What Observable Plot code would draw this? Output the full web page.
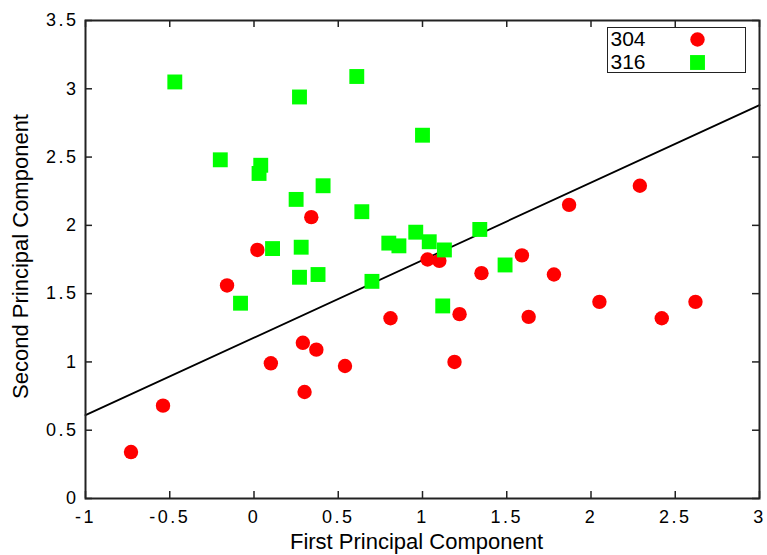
<!DOCTYPE html>
<html><head><meta charset="utf-8">
<script src="https://cdn.jsdelivr.net/npm/d3@7"></script>
<script src="https://cdn.jsdelivr.net/npm/@observablehq/plot@0.6"></script>
<style>
body{margin:0;background:#fff;}
#wrap{position:relative;width:767px;height:555px;overflow:hidden;}
#legendbox{position:absolute;left:607px;top:27px;width:137px;height:44px;border:1.5px solid #222;pointer-events:none;}
#wrap g[aria-label$="tick label"]{letter-spacing:2.5px;}
</style></head><body><div id="wrap"><div id="legendbox"></div></div>
<script>
// Series 304 (red circles)
const x304 = [-0.73, -0.54, -0.16, 0.02, 0.10, 0.34, 0.29, 0.37, 0.30, 0.54, 0.81, 1.03, 1.10, 1.22, 1.19, 1.35, 1.59, 1.63, 1.78, 1.87, 2.05, 2.29, 2.42, 2.62];
const y304 = [0.34, 0.68, 1.56, 1.82, 0.99, 2.06, 1.14, 1.09, 0.78, 0.97, 1.32, 1.75, 1.74, 1.35, 1.00, 1.65, 1.78, 1.33, 1.64, 2.15, 1.44, 2.29, 1.32, 1.44];
// Series 316 (green squares)
const x316 = [-0.47, 0.61, 0.27, 1.00, -0.20, 0.04, 0.03, 0.41, 0.25, 0.64, 0.96, 0.80, 0.86, 1.04, 1.13, 1.34, 0.11, 0.28, 0.27, 0.38, 0.70, -0.08, 1.12, 1.49];
const y316 = [3.05, 3.09, 2.94, 2.66, 2.48, 2.44, 2.38, 2.29, 2.19, 2.10, 1.95, 1.87, 1.85, 1.88, 1.82, 1.97, 1.83, 1.84, 1.62, 1.64, 1.59, 1.43, 1.41, 1.71];
// Separating line
const fitX = [-1, 3];
const fitY = [0.61, 2.88];
// Ticks
const xTicks = [-1, -0.5, 0, 0.5, 1, 1.5, 2, 2.5, 3];
const yTicks = [0, 0.5, 1, 1.5, 2, 2.5, 3, 3.5];
const seriesNames = ["304", "316"];
const colors = ["#ff0000", "#00ff00"];
const xTitle = "First Principal Component";
const yTitle = "Second Principal Component";

const d304 = x304.map((x, i) => ({x, y: y304[i]}));
const d316 = x316.map((x, i) => ({x, y: y316[i]}));
const dFit = fitX.map((x, i) => ({x, y: fitY[i]}));

const chart = Plot.plot({
  width: 767, height: 555,
  marginLeft: 85, marginRight: 8, marginTop: 20, marginBottom: 57,
  style: {fontFamily: "'Liberation Sans', Arial, sans-serif", background: "white", color: "black"},
  x: {domain: [-1, 3]},
  y: {domain: [0, 3.5]},
  marks: [
    Plot.tickX(xTicks, {x: d => d, insetTop: 471, strokeWidth: 1.5, stroke: "#222"}),
    Plot.tickX(xTicks, {x: d => d, insetBottom: 471, strokeWidth: 1.5, stroke: "#222"}),
    Plot.tickY(yTicks, {y: d => d, insetRight: 667, strokeWidth: 1.5, stroke: "#222"}),
    Plot.tickY(yTicks, {y: d => d, insetLeft: 667, strokeWidth: 1.5, stroke: "#222"}),
    Plot.axisX({ticks: xTicks, tickSize: 0, tickPadding: 12, tickFormat: d => String(d), fontSize: 18, label: null}),
    Plot.axisY({ticks: yTicks, tickSize: 0, tickPadding: 7, tickFormat: d => String(d), fontSize: 18, label: null}),
    Plot.line(dFit, {x: "x", y: "y", stroke: "black", strokeWidth: 1.8}),
    Plot.dot(d304, {x: "x", y: "y", r: 7.2, fill: colors[0], symbol: "circle"}),
    Plot.dot(d316, {x: "x", y: "y", r: 8.4, fill: colors[1], symbol: "square"}),
    Plot.frame({stroke: "#222", strokeWidth: 2}),
    Plot.text([xTitle], {text: d => d, frameAnchor: "bottom", lineAnchor: "middle", textAnchor: "middle", dy: 43, dx: -6, fontSize: 22}),
    Plot.text([yTitle], {text: d => d, frameAnchor: "left", lineAnchor: "middle", textAnchor: "middle", rotate: -90, dx: -65, dy: -3, fontSize: 22}),
    // legend
    Plot.text([seriesNames[0]], {text: d => d, frameAnchor: "top-right", lineAnchor: "middle", textAnchor: "start", dx: -149, dy: 19, fontSize: 21, letterSpacing: 1}),
    Plot.text([seriesNames[1]], {text: d => d, frameAnchor: "top-right", lineAnchor: "middle", textAnchor: "start", dx: -149, dy: 42, fontSize: 21, letterSpacing: 1}),
    Plot.dot([seriesNames[0]], {frameAnchor: "top-right", dx: -62, dy: 19, r: 7.2, fill: colors[0], symbol: "circle"}),
    Plot.dot([seriesNames[1]], {frameAnchor: "top-right", dx: -62, dy: 42, r: 8.4, fill: colors[1], symbol: "square"})
  ]
});
document.getElementById("wrap").prepend(chart);
</script>
</body></html>
